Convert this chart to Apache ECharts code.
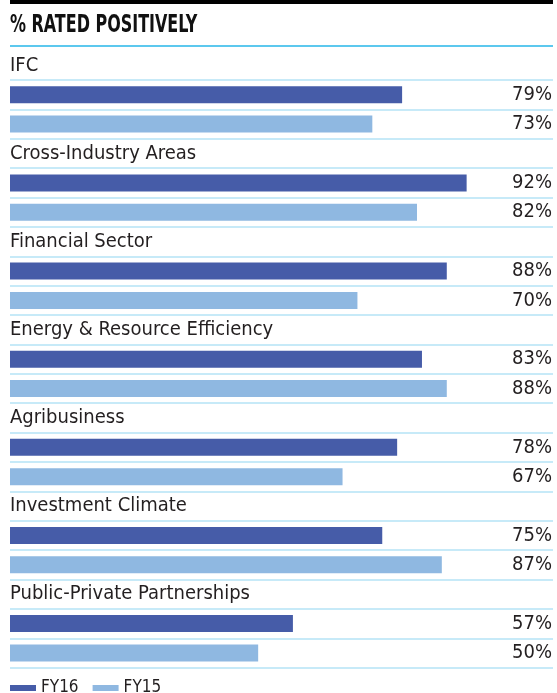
<!DOCTYPE html>
<html>
<head>
<meta charset="utf-8">
<script src="https://cdn.jsdelivr.net/npm/echarts@6/dist/echarts.min.js"></script>
<style>
html,body{margin:0;padding:0;background:#fff;}
#chart{width:557px;height:693px;}
</style>
</head>
<body>
<div id="chart"></div>
<script>
const titleText = '% RATED POSITIVELY';
const categories = ['IFC', 'Cross-Industry Areas', 'Financial Sector', 'Energy & Resource Efficiency', 'Agribusiness', 'Investment Climate', 'Public-Private Partnerships'];
const seriesNames = ['FY16', 'FY15'];
const fy16 = [79, 92, 88, 83, 78, 75, 57];
const fy15 = [73, 82, 70, 88, 67, 87, 50];

const FONT = '"Liberation Sans Narrow", "DejaVu Sans Condensed", "Liberation Sans", sans-serif';
const TEXT = '#231f20';
const DARK = '#465ca8';
const LIGHT = '#8fb8e1';
const RULE = '#b4e3f6';

// Build rows: label row, FY16 row, FY15 row per category
const rows = [];
categories.forEach((c, i) => {
  rows.push({ id: 'c' + i, label: c, value: null, kind: 'label' });
  rows.push({ id: 'c' + i + '-a', label: '', value: fy16[i], kind: 'FY16' });
  rows.push({ id: 'c' + i + '-b', label: '', value: fy15[i], kind: 'FY15' });
});
const rowIds = rows.map(r => r.id);
const s16 = rows.map(r => r.kind === 'FY16' ? r.value : '-');
const s15 = rows.map(r => r.kind === 'FY15' ? r.value : '-');
const ruleColors = rowIds.concat(['end']).map((_, i) => i === 0 ? 'rgba(0,0,0,0)' : RULE);

const chart = echarts.init(document.getElementById('chart'), null, { renderer: 'canvas' });
chart.setOption({
  animation: false,
  backgroundColor: '#fff',
  graphic: [
    { type: 'rect', shape: { x: 10, y: 0, width: 543, height: 4 }, style: { fill: '#000' } },
    { type: 'text', x: 10, y: 25, scaleX: 0.71, style: { text: titleText, font: 'bold 25px ' + FONT, fill: '#111', textVerticalAlign: 'middle' } },
    { type: 'line', shape: { x1: 10, y1: 46, x2: 553, y2: 46 }, style: { stroke: '#5cc8ee', lineWidth: 2 } }
  ],
  legend: {
    data: seriesNames,
    left: 10,
    top: 679,
    padding: 0,
    icon: 'rect',
    itemWidth: 26,
    itemHeight: 6,
    itemGap: 14,
    textStyle: { fontFamily: FONT, fontSize: 17, color: TEXT, lineHeight: 18 }
  },
  grid: { left: 10, right: 4, top: 50.67, bottom: 25.33, containLabel: false },
  xAxis: { type: 'value', min: 0, max: 109.4, show: false },
  yAxis: [
    {
      type: 'category', data: rowIds, inverse: true,
      axisLine: { show: false }, axisTick: { show: false },
      axisLabel: {
        inside: true, margin: 0, interval: 0,
        formatter: (v, i) => rows[i].label,
        fontFamily: FONT, fontSize: 20, color: TEXT
      },
      splitLine: { show: true, interval: 0, lineStyle: { color: ruleColors, width: 1.5 } }
    },
    {
      type: 'category', data: rowIds, inverse: true, position: 'right',
      axisLine: { show: false }, axisTick: { show: false },
      axisLabel: {
        inside: true, margin: 1, interval: 0,
        formatter: (v, i) => rows[i].value === null ? '' : rows[i].value + '%',
        fontFamily: FONT, fontSize: 20, color: TEXT
      },
      splitLine: { show: false }
    }
  ],
  series: [
    { name: seriesNames[0], type: 'bar', data: s16, barWidth: 17, barGap: '-100%', itemStyle: { color: DARK } },
    { name: seriesNames[1], type: 'bar', data: s15, barWidth: 17, barGap: '-100%', itemStyle: { color: LIGHT } }
  ]
});
</script>
</body>
</html>
